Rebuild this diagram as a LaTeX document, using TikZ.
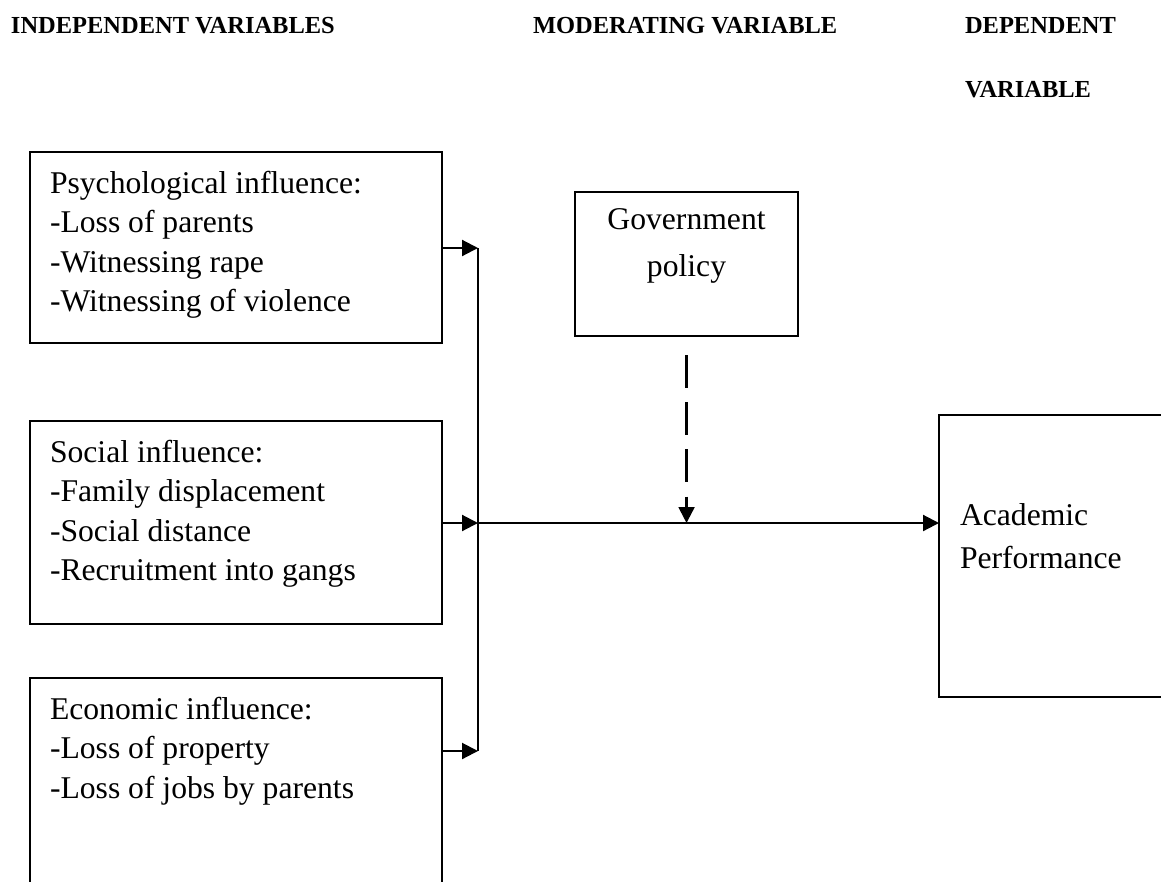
\documentclass[tikz,border=0pt]{standalone}
\usepackage{fontspec}
\setmainfont{Liberation Serif}
\usepackage{tikz}
\usetikzlibrary{arrows.meta, positioning}

\begin{document}
\begin{tikzpicture}[
		    x=0.025cm, y=-0.025cm,
		    every node/.style={inner sep=0pt, outer sep=0pt}
		]
		\tikzset{
		    caixa/.style={draw, line width=1.5pt, rectangle, anchor=north west},
		    titulo/.style={anchor=base west, font=\fontsize{17.4}{20}\selectfont\bfseries},
		    texto/.style={anchor=north west, align=left, font=\fontsize{22.5}{28}\selectfont},
		    seta/.style={line width=1.5pt, -{Triangle[length=0.4cm, width=0.4cm]}},
		    tracejada/.style={seta, dash pattern=on 0.82cm off 0.36cm}
		}
		\useasboundingbox (0,0) rectangle (1161,881);
		\clip (0,0) rectangle (1161,881);
		% titles
		\node[titulo] (tind) at (11,33) {INDEPENDENT VARIABLES};
		\node[titulo] (tmod) at (533,33) {MODERATING VARIABLE};
		\node[titulo] (tdep) at (965,33) {DEPENDENT};
		\node[titulo] (tdep2) at (965,97) {VARIABLE};
		% boxes
		\node[caixa, minimum width=10.3cm, minimum height=4.775cm] (psico) at (30,152) {};
		\node[caixa, minimum width=10.3cm, minimum height=5.075cm] (social) at (30,421) {};
		\node[caixa, minimum width=10.3cm, minimum height=7.5cm] (econ) at (30,678) {};
		\node[caixa, minimum width=5.575cm, minimum height=3.6cm] (gov) at (575,192) {};
		\node[caixa, minimum width=8cm, minimum height=7.05cm] (acad) at (939,415) {};
		% texts
		\node[texto] (psicot) at ([xshift=0.5cm, yshift=-0.475cm]psico.north west)
		  {Psychological influence:\\-Loss of parents\\-Witnessing rape\\-Witnessing of violence};
		\node[texto] (socialt) at ([xshift=0.5cm, yshift=-0.475cm]social.north west)
		  {Social influence:\\-Family displacement\\-Social distance\\-Recruitment into gangs};
		\node[texto] (econt) at ([xshift=0.5cm, yshift=-0.475cm]econ.north west)
		  {Economic influence:\\-Loss of property\\-Loss of jobs by parents};
		\node[texto, anchor=north, align=center, font=\fontsize{22.5}{33.4}\selectfont] (govt)
		  at ([yshift=-0.425cm]gov.north) {Government\\policy};
		\node[texto, font=\fontsize{22.5}{29.9}\selectfont] (acadt)
		  at ([xshift=0.525cm, yshift=-2.225cm]acad.north west) {Academic\\Performance};
		% connectors
		\coordinate (jtop) at (478,248);
		\coordinate (jmid) at (478,523);
		\coordinate (jbot) at (478,751);
		\draw[line width=1.5pt] (jtop) -- (jbot);
		\draw[seta] (psico.east |- jtop) -- (jtop);
		\draw[seta] (social.east |- jmid) -- (jmid);
		\draw[seta] (econ.east |- jbot) -- (jbot);
		\draw[seta] (jmid) -- (acad.west |- jmid);
		\coordinate (dtop) at ([yshift=-0.475cm]gov.south);
		\draw[tracejada] (dtop) -- (dtop |- jmid);
\end{tikzpicture}
\end{document}
